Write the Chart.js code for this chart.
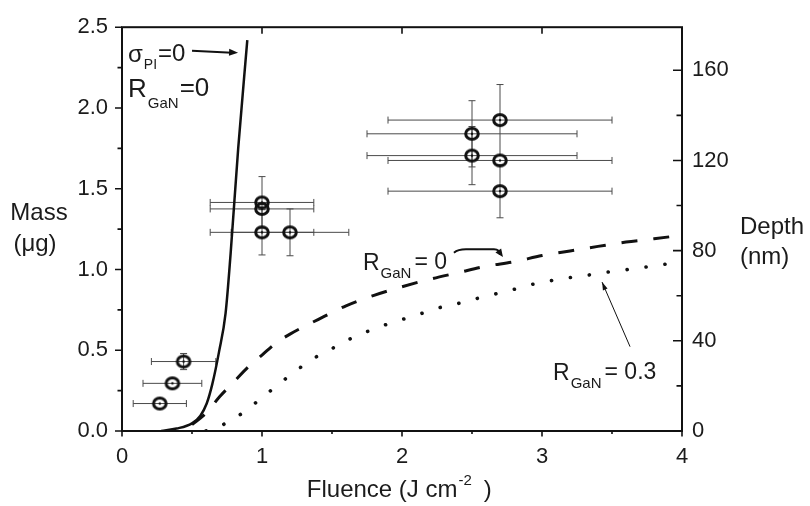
<!DOCTYPE html>
<html>
<head>
<meta charset="utf-8">
<script src="https://cdn.jsdelivr.net/npm/chart.js@4/dist/chart.umd.min.js"></script>
<style>
  html, body { margin: 0; padding: 0; background: #ffffff; }
  #plot { display: block; }
</style>
</head>
<body>
<canvas id="plot" width="810" height="506"></canvas>
<script>
// ---- measured ablation data (fluence in J cm^-2, removed mass in µg) ----
const expFluence    = [0.27, 0.36, 0.44, 1.00, 1.00, 1.00, 1.20, 2.50, 2.50, 2.70, 2.70, 2.70];
const expMass       = [0.17, 0.295, 0.43, 1.415, 1.375, 1.23, 1.23, 1.84, 1.705, 1.925, 1.675, 1.485];
const expFluenceErr = [0.19, 0.21, 0.23, 0.37, 0.37, 0.37, 0.42, 0.75, 0.75, 0.80, 0.80, 0.80];
const expMassErr    = [0.00, 0.00, 0.05, 0.16, 0.00, 0.14, 0.145, 0.205, 0.18, 0.22, 0.00, 0.165];

// ---- model: sigma_PI = 0, R_GaN = 0 (solid) ----
const solidFluence = [0.28, 0.39, 0.50, 0.56, 0.605, 0.645, 0.693, 0.74, 0.776, 0.83, 0.895];
const solidMass    = [0.00, 0.015, 0.047, 0.095, 0.17, 0.29, 0.49, 0.73, 1.10, 1.75, 2.42];

// ---- model: R_GaN = 0 (dashed) ----
const dashFluence = [0.50, 0.60, 0.70, 0.80, 0.90, 1.00, 1.10, 1.20, 1.40, 1.60, 1.80, 2.00, 2.20, 2.40, 2.60, 2.80, 3.00, 3.20, 3.40, 3.60, 3.80, 4.00];
const dashMass    = [0.04, 0.11, 0.215, 0.305, 0.395, 0.47, 0.545, 0.60, 0.69, 0.775, 0.84, 0.893, 0.94, 0.98, 1.02, 1.048, 1.086, 1.115, 1.143, 1.17, 1.19, 1.212];

// ---- model: R_GaN = 0.3 (dotted) ----
const dotFluence = [0.60, 0.74, 0.87, 1.00, 1.13, 1.25, 1.37, 1.50, 1.62, 1.75, 1.88, 2.00, 2.14, 2.26, 2.39, 2.52, 2.64, 2.76, 2.90, 3.02, 3.14, 3.27, 3.40, 3.53, 3.66, 3.78, 3.90, 4.00];
const dotMass    = [0.00, 0.047, 0.117, 0.207, 0.297, 0.378, 0.45, 0.51, 0.566, 0.615, 0.657, 0.69, 0.728, 0.762, 0.787, 0.817, 0.843, 0.867, 0.902, 0.923, 0.943, 0.957, 0.975, 0.991, 1.005, 1.02, 1.035, 1.045];

// ---- axes ----
const fluenceTicks = [0, 1, 2, 3, 4];
const fluenceMinor = [0.5, 1.5, 2.5, 3.5];
const massTicks    = [0, 0.5, 1.0, 1.5, 2.0, 2.5];
const massMinor    = [0.25, 0.75, 1.25, 1.75, 2.25];
const depthTicks   = [0, 40, 80, 120, 160];
const depthMinor   = [20, 60, 100, 140];
const massMax  = 2.5;
const depthMax = 179.1;   // depth axis spans the same height as 0–2.5 µg

const FONT = '"Liberation Sans", Arial, Helvetica, sans-serif';
const INK = '#1b1b1b';

const pairs = (xs, ys) => xs.map((v, i) => ({ x: v, y: ys[i] }));

// open ring marker with a centre dot
function ringMarker() {
  const c = document.createElement('canvas');
  c.width = 20; c.height = 18;
  const g = c.getContext('2d');
  g.strokeStyle = '#111'; g.lineWidth = 3;
  g.beginPath(); g.ellipse(10, 9, 6.3, 5.5, 0, 0, Math.PI * 2); g.stroke();
  g.fillStyle = '#111';
  g.beginPath(); g.arc(10, 9, 1.2, 0, Math.PI * 2); g.fill();
  return c;
}

// text runs with sub/superscripts: [text, size, dy, dx]
function rich(ctx, x, y, parts) {
  ctx.textAlign = 'left';
  ctx.textBaseline = 'middle';
  for (const [t, size, dy, dx] of parts) {
    x += dx || 0;
    ctx.font = size + 'px ' + FONT;
    ctx.fillText(t, x, y + (dy || 0));
    x += ctx.measureText(t).width;
  }
}

function arrowHead(ctx, x0, y0, x1, y1, len, half) {
  const a = Math.atan2(y1 - y0, x1 - x0);
  ctx.beginPath();
  ctx.moveTo(x1, y1);
  ctx.lineTo(x1 - len * Math.cos(a) + half * Math.sin(a), y1 - len * Math.sin(a) - half * Math.cos(a));
  ctx.lineTo(x1 - len * Math.cos(a) - half * Math.sin(a), y1 - len * Math.sin(a) + half * Math.cos(a));
  ctx.closePath();
  ctx.fill();
}

// horizontal and vertical error bars under the markers
const errorBars = {
  id: 'errorBars',
  beforeDatasetsDraw(chart) {
    const { ctx, scales: { x, y } } = chart;
    ctx.save();
    ctx.strokeStyle = '#4a4a4a';
    ctx.lineWidth = 1;
    ctx.beginPath();
    expFluence.forEach((f, i) => {
      const px = x.getPixelForValue(f), py = y.getPixelForValue(expMass[i]);
      const ex = expFluenceErr[i], ey = expMassErr[i];
      if (ex > 0) {
        const l = x.getPixelForValue(f - ex), r = x.getPixelForValue(f + ex);
        ctx.moveTo(l, py); ctx.lineTo(r, py);
        ctx.moveTo(l, py - 3.5); ctx.lineTo(l, py + 3.5);
        ctx.moveTo(r, py - 3.5); ctx.lineTo(r, py + 3.5);
      }
      if (ey > 0) {
        const t = y.getPixelForValue(expMass[i] + ey), b = y.getPixelForValue(expMass[i] - ey);
        ctx.moveTo(px, t); ctx.lineTo(px, b);
        ctx.moveTo(px - 3.5, t); ctx.lineTo(px + 3.5, t);
        ctx.moveTo(px - 3.5, b); ctx.lineTo(px + 3.5, b);
      }
    });
    ctx.stroke();
    ctx.restore();
  }
};

// boxed frame with Origin-style major/minor ticks, titles and curve labels
const decorations = {
  id: 'decorations',
  afterDatasetsDraw(chart) {
    const { ctx, chartArea: a, scales: { x, y, y2 } } = chart;
    ctx.save();
    ctx.strokeStyle = '#111';
    ctx.lineWidth = 2;
    ctx.strokeRect(a.left, a.top, a.right - a.left, a.bottom - a.top);

    ctx.lineWidth = 1.6;
    ctx.beginPath();
    massTicks.forEach(v => { const p = y.getPixelForValue(v); ctx.moveTo(a.left - 7, p); ctx.lineTo(a.left, p); });
    massMinor.forEach(v => { const p = y.getPixelForValue(v); ctx.moveTo(a.left - 4.5, p); ctx.lineTo(a.left, p); });
    depthTicks.forEach(v => { const p = y2.getPixelForValue(v); ctx.moveTo(a.right - 9, p); ctx.lineTo(a.right, p); });
    depthMinor.forEach(v => { const p = y2.getPixelForValue(v); ctx.moveTo(a.right - 5.5, p); ctx.lineTo(a.right, p); });
    fluenceTicks.forEach(v => { const p = x.getPixelForValue(v); ctx.moveTo(p, a.bottom); ctx.lineTo(p, a.bottom + 5.5); });
    fluenceMinor.forEach(v => { const p = x.getPixelForValue(v); ctx.moveTo(p, a.bottom); ctx.lineTo(p, a.bottom + 3); });
    fluenceTicks.forEach(v => { const p = x.getPixelForValue(v); ctx.moveTo(p, a.top); ctx.lineTo(p, a.top + 6.5); });
    ctx.stroke();

    // axis titles
    ctx.fillStyle = INK;
    ctx.font = '24px ' + FONT;
    ctx.textAlign = 'center';
    ctx.textBaseline = 'middle';
    ctx.fillText('Mass', 39, y.getPixelForValue(1.35));
    ctx.fillText('(\u03bcg)', 35, y.getPixelForValue(1.155));
    ctx.textAlign = 'left';
    ctx.fillText('Depth', a.right + 58, y2.getPixelForValue(90.5));
    ctx.fillText('(nm)', a.right + 58, y2.getPixelForValue(77));
    rich(ctx, x.getPixelForValue(1.32), a.bottom + 59, [
      ['Fluence (J cm', 24, 0], ['-2', 15, -9, 1], [')', 24, 0, 12]
    ]);

    // curve labels
    const P = (fx, my) => [x.getPixelForValue(fx), y.getPixelForValue(my)];
    let [tx, ty] = P(0.043, 2.324);
    rich(ctx, tx, ty, [['\u03c3', 24, 0], ['PI', 14, 10, 1], ['=0', 24, -1, 1]]);
    [tx, ty] = P(0.043, 2.112);
    rich(ctx, tx, ty, [['R', 26, 0], ['GaN', 15, 14, 1], ['=0', 26, -1, 1]]);
    [tx, ty] = P(1.721, 1.038);
    rich(ctx, tx, ty, [['R', 23, 0], ['GaN', 15, 11, 1], ['= 0', 23, -1, 3]]);
    [tx, ty] = P(3.079, 0.358);
    rich(ctx, tx, ty, [['R', 23, 0], ['GaN', 15, 11, 1], ['= 0.3', 23, -1, 3]]);

    // arrows
    ctx.strokeStyle = '#111';
    ctx.fillStyle = '#111';
    ctx.lineWidth = 2;
    let [ax0, ay0] = P(0.50, 2.354), [ax1, ay1] = P(0.829, 2.342);
    ctx.beginPath(); ctx.moveTo(ax0, ay0); ctx.lineTo(ax1 - 6, ay1); ctx.stroke();
    arrowHead(ctx, ax0, ay0, ax1, ay1, 9, 3.5);

    const [bx0, by0] = P(2.371, 1.104), [bx1, by1] = P(2.657, 1.125), [bx2, by2] = P(2.721, 1.077);
    ctx.beginPath(); ctx.moveTo(bx0, by0);
    ctx.quadraticCurveTo(bx0 + 4, by1, bx0 + 12, by1);
    ctx.lineTo(bx1, by1);
    ctx.quadraticCurveTo(bx1 + 6, by1, bx2 - 3, by2 - 2);
    ctx.stroke();
    arrowHead(ctx, bx1 + 2, by1 - 2, bx2, by2, 8, 3.5);

    ctx.lineWidth = 1;
    const [cx0, cy0] = P(3.629, 0.522), [cx1, cy1] = P(3.429, 0.922);
    ctx.beginPath(); ctx.moveTo(cx0, cy0); ctx.lineTo(cx1, cy1); ctx.stroke();
    arrowHead(ctx, cx0, cy0, cx1, cy1, 8, 2.5);
    ctx.restore();
  }
};

const tickFont = { family: FONT, size: 22 };

new Chart(document.getElementById('plot'), {
  type: 'scatter',
  data: {
    datasets: [
      {
        label: 'sigma_PI=0, R_GaN=0',
        data: pairs(solidFluence, solidMass),
        showLine: true, pointRadius: 0,
        borderColor: '#111', borderWidth: 2.5,
        cubicInterpolationMode: 'monotone'
      },
      {
        label: 'R_GaN=0',
        data: pairs(dashFluence, dashMass),
        showLine: true, pointRadius: 0,
        borderColor: '#111', borderWidth: 3,
        borderDash: [16, 16],
        cubicInterpolationMode: 'monotone'
      },
      {
        label: 'R_GaN=0.3',
        data: pairs(dotFluence, dotMass),
        showLine: true, pointRadius: 0,
        borderColor: '#111', borderWidth: 3.6,
        borderDash: [0.1, 19], borderCapStyle: 'round',
        cubicInterpolationMode: 'monotone'
      },
      {
        label: 'measured',
        data: pairs(expFluence, expMass),
        showLine: false,
        pointStyle: ringMarker(),
        pointRadius: 7
      }
    ]
  },
  options: {
    responsive: false,
    animation: false,
    layout: { padding: { top: 19, left: 0, right: 0, bottom: 0 } },
    plugins: { legend: { display: false }, tooltip: { enabled: false } },
    scales: {
      x: {
        type: 'linear', min: 0, max: 4,
        afterBuildTicks: s => { s.ticks = fluenceTicks.map(v => ({ value: v })); },
        afterFit: s => { s.height = 75; },
        grid: { display: false, drawTicks: false },
        border: { display: false },
        ticks: { padding: 13, font: tickFont, color: INK, maxRotation: 0, callback: v => String(v) }
      },
      y: {
        type: 'linear', position: 'left', min: 0, max: massMax,
        afterBuildTicks: s => { s.ticks = massTicks.map(v => ({ value: v })); },
        afterFit: s => { s.width = 122; },
        grid: { display: false, drawTicks: false },
        border: { display: false },
        ticks: { padding: 14, font: tickFont, color: INK, callback: v => Number(v).toFixed(1) }
      },
      y2: {
        type: 'linear', position: 'right', min: 0, max: depthMax,
        afterBuildTicks: s => { s.ticks = depthTicks.map(v => ({ value: v })); },
        afterFit: s => { s.width = 128; },
        grid: { display: false, drawTicks: false },
        border: { display: false },
        ticks: { padding: 10, font: tickFont, color: INK, callback: v => String(v) }
      }
    }
  },
  plugins: [errorBars, decorations]
});
</script>
</body>
</html>
